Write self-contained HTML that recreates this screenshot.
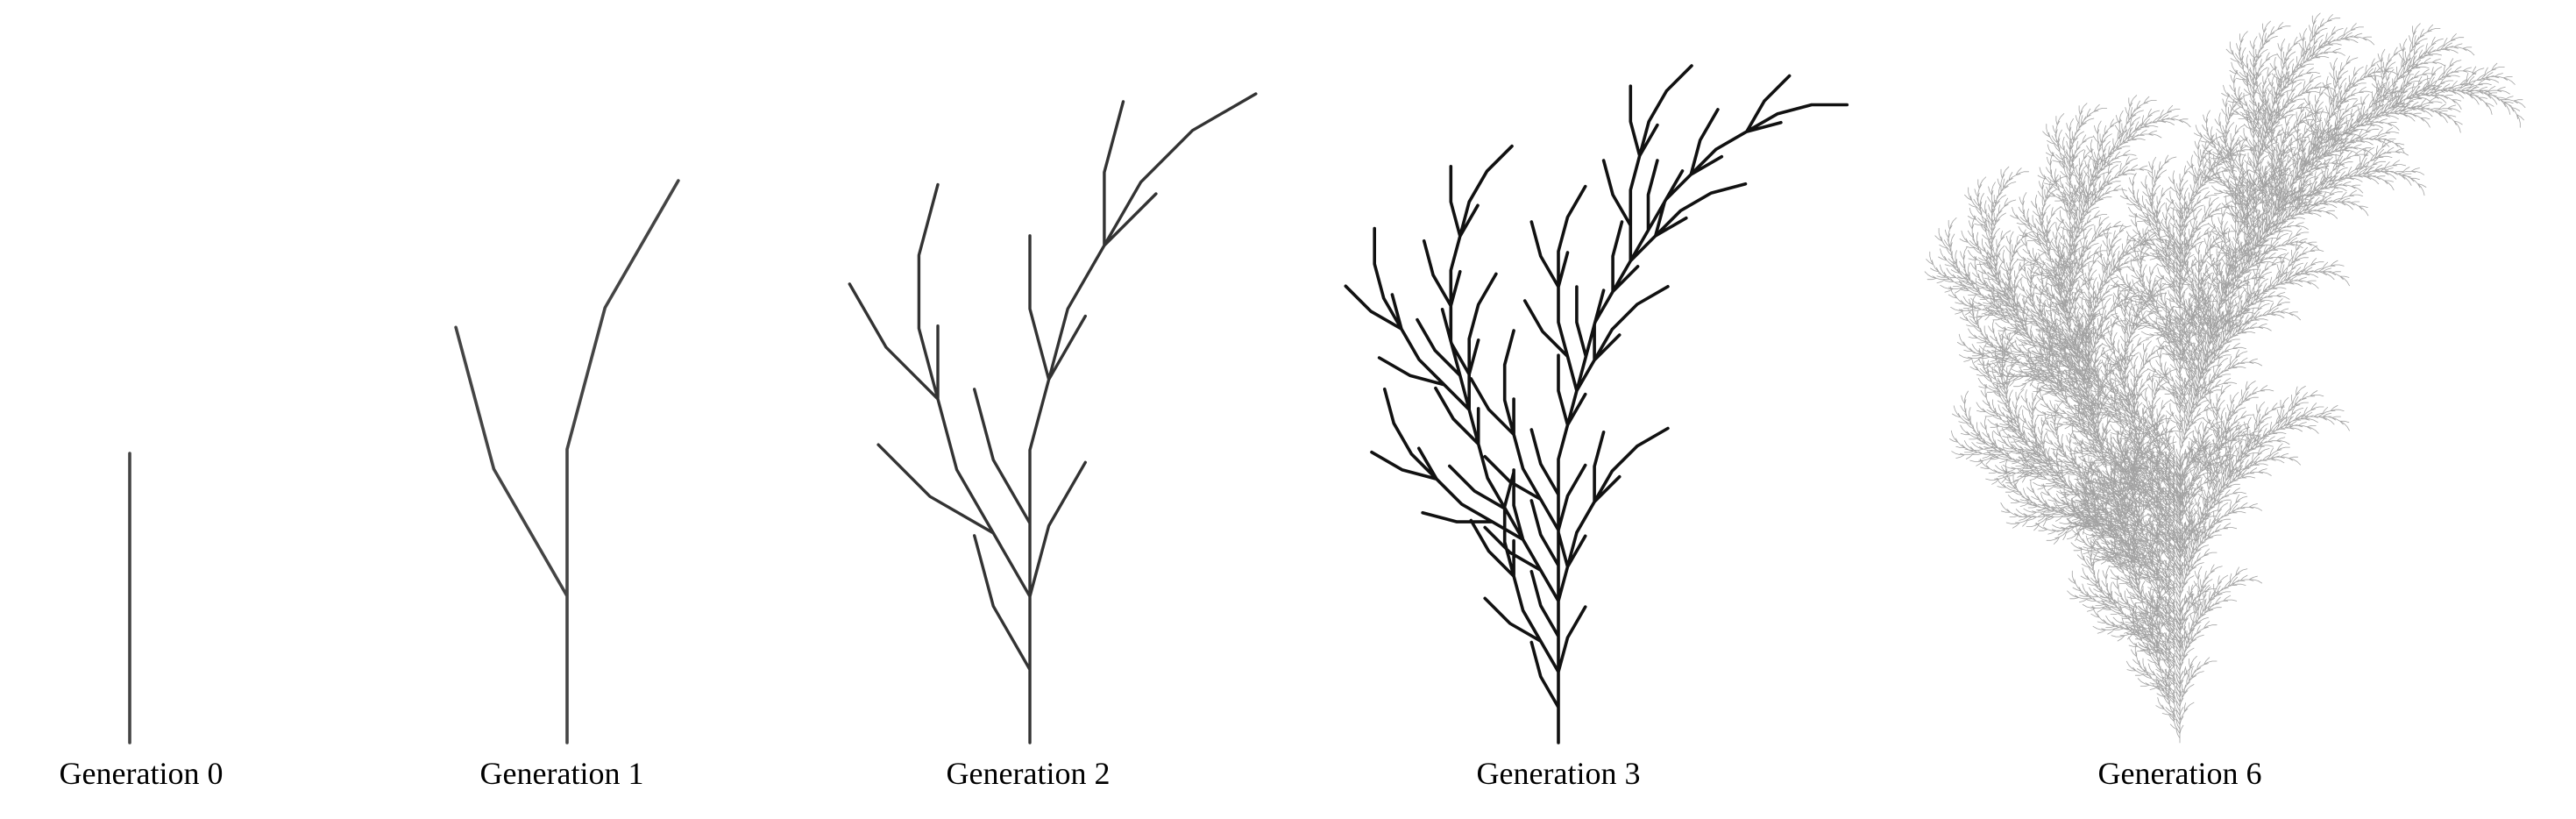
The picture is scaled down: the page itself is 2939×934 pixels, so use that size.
<!DOCTYPE html>
<html><head><meta charset="utf-8"><style>
html,body{margin:0;padding:0;background:#fff;}
svg{display:block;}
text{font-family:"Liberation Serif",serif;font-size:36px;fill:#000;}
</style></head><body>
<svg id="chart" width="2939" height="934" viewBox="0 0 2939 934" xmlns="http://www.w3.org/2000/svg">
<g id="plants"></g>
<g id="labels"></g>
</svg>
<script>
// L-system data
const generations = [0, 1, 2, 3, 6];
const labels = ["Generation 0", "Generation 1", "Generation 2", "Generation 3", "Generation 6"];
const angleDeg = 15;
const axiom = "X";
const ruleX = "F[--F+X]F+F+X";
const ruleF = "F[--F+F]F[+F+F]";

// layout (not data)
const baseX = [148, 647, 1175, 1778, 2487];
const baseY = 847;
const topY = [517, 206, 107, 75, 15];
const labelY = 894;
const strokes = [
  {c:"#444", w:3.6, o:1},
  {c:"#444", w:3.6, o:1},
  {c:"#333", w:3.4, o:1},
  {c:"#111", w:3.6, o:1},
  {c:"#222", w:0.8, o:0.42}
];

const NS = "http://www.w3.org/2000/svg";
function expand(n){
  let s = axiom;
  for(let i=0;i<n;i++){
    let o = "";
    for(const ch of s){
      if(ch==="X") o += ruleX;
      else if(ch==="F") o += ruleF;
      else o += ch;
    }
    s = o;
  }
  return s;
}
function turtle(s){
  const d = angleDeg*Math.PI/180;
  let x=0,y=0,h=0; const st=[]; const segs=[];
  for(const ch of s){
    if(ch==="F"||ch==="X"){
      const nx = x+Math.sin(h), ny = y-Math.cos(h);
      segs.push([x,y,nx,ny]); x=nx; y=ny;
    } else if(ch==="+") h+=d;
    else if(ch==="-") h-=d;
    else if(ch==="[") st.push([x,y,h]);
    else if(ch==="]"){ [x,y,h]=st.pop(); }
  }
  return segs;
}
const gPlants = document.getElementById("plants");
const gLabels = document.getElementById("labels");
generations.forEach((gen,i)=>{
  const segs = turtle(expand(gen));
  let minY = 0;
  segs.forEach(s=>{ minY=Math.min(minY,s[1],s[3]); });
  const sc = (baseY-topY[i])/(-minY || 1);
  let dstr = "";
  let lx=null, ly=null;
  segs.forEach(s=>{
    const x1=(baseX[i]+s[0]*sc).toFixed(1), y1=(baseY+s[1]*sc).toFixed(1);
    const x2=(baseX[i]+s[2]*sc).toFixed(1), y2=(baseY+s[3]*sc).toFixed(1);
    if(x1===lx && y1===ly) dstr += "L"+x2+" "+y2;
    else dstr += "M"+x1+" "+y1+"L"+x2+" "+y2;
    lx=x2; ly=y2;
  });
  const p = document.createElementNS(NS,"path");
  
  
  p.setAttribute("d", dstr);
  p.setAttribute("fill","none");
  p.setAttribute("stroke", strokes[i].c);
  p.setAttribute("stroke-width", strokes[i].w);
  p.setAttribute("stroke-opacity", strokes[i].o);
  p.setAttribute("stroke-linecap","round");
  p.setAttribute("stroke-linejoin","round");
  gPlants.appendChild(p);

  const t = document.createElementNS(NS,"text");
  
  
  t.setAttribute("x", [161,641,1173,1778,2487][i]);
  t.setAttribute("y", labelY);
  t.setAttribute("text-anchor","middle");
  t.textContent = labels[i];
  gLabels.appendChild(t);
});
</script>
</body></html>
